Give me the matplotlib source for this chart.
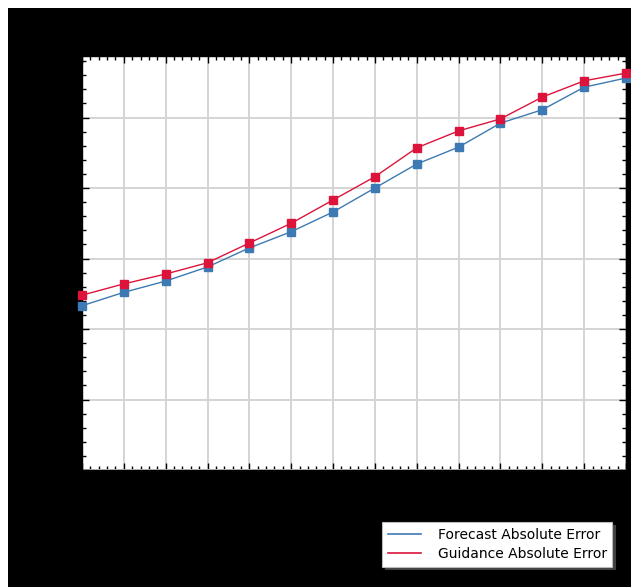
import matplotlib
matplotlib.use("Agg")
import matplotlib.pyplot as plt
from matplotlib.patches import Rectangle
from matplotlib.ticker import MultipleLocator, AutoMinorLocator

x = list(range(14))
forecast_error = [2.33, 2.52, 2.68, 2.88, 3.15, 3.38, 3.66, 4.00, 4.34, 4.58, 4.92, 5.11, 5.43, 5.56]
guidance_error = [2.48, 2.64, 2.78, 2.94, 3.22, 3.50, 3.83, 4.16, 4.57, 4.81, 4.98, 5.29, 5.52, 5.63]
series_labels = ["Forecast Absolute Error", "Guidance Absolute Error"]

W, H = 631, 587
fig = plt.figure(figsize=(W / 100, H / 100), dpi=100, facecolor="white")
fig.patches.append(Rectangle((8 / W, 0), 1 - 8 / W, 1 - 8 / H, transform=fig.transFigure,
                             facecolor="black", edgecolor="none", zorder=-10))

left, right, top, bottom = 82, 626, 56, 470
ax = fig.add_axes([left / W, 1 - bottom / H, (right - left) / W, (bottom - top) / H])
ax.set_zorder(1)
ax.set_facecolor("white")

blue = "#3d7ab3"
red = "#dc143c"
ax.plot(x, forecast_error, color=blue, lw=1.0, marker="s", ms=6, mec=blue, mfc=blue,
        label=series_labels[0], zorder=3, clip_on=False)
ax.plot(x, guidance_error, color=red, lw=1.0, marker="s", ms=6, mec=red, mfc=red,
        label=series_labels[1], zorder=4, clip_on=False)

ax.set_xlim(0, 13)
ax.set_ylim(0, (bottom - top) / 70.5)
ax.xaxis.set_major_locator(MultipleLocator(1))
ax.yaxis.set_major_locator(MultipleLocator(1))
ax.xaxis.set_minor_locator(AutoMinorLocator(5))
ax.yaxis.set_minor_locator(AutoMinorLocator(5))
ax.grid(True, which="major", color="#d4d4d4", lw=1.4, zorder=1)
ax.set_axisbelow(True)
ax.tick_params(which="both", direction="in", top=True, right=True, labelleft=False,
               labelbottom=False, color="black")
ax.tick_params(which="major", length=5, width=1)
ax.tick_params(which="minor", length=3, width=1)
for s in ax.spines.values():
    s.set_color("black")
    s.set_linewidth(1)

handles = [plt.Line2D([], [], color=blue, lw=1.2), plt.Line2D([], [], color=red, lw=1.2)]
leg = fig.legend(handles, series_labels, loc="upper left",
                 bbox_to_anchor=(382 / W, 1 - 522 / H), bbox_transform=fig.transFigure,
                 borderaxespad=0, fancybox=False, frameon=True, edgecolor="#bbbbbb",
                 shadow={"color": "#404040", "alpha": 1}, prop={"size": 10},
                 handlelength=2.4, handletextpad=1.2, labelspacing=0.4,
                 borderpad=0.4)
leg.set_zorder(5)
leg.get_frame().set_linewidth(0.8)

fig.savefig("out.png", dpi=100, facecolor=fig.get_facecolor())
